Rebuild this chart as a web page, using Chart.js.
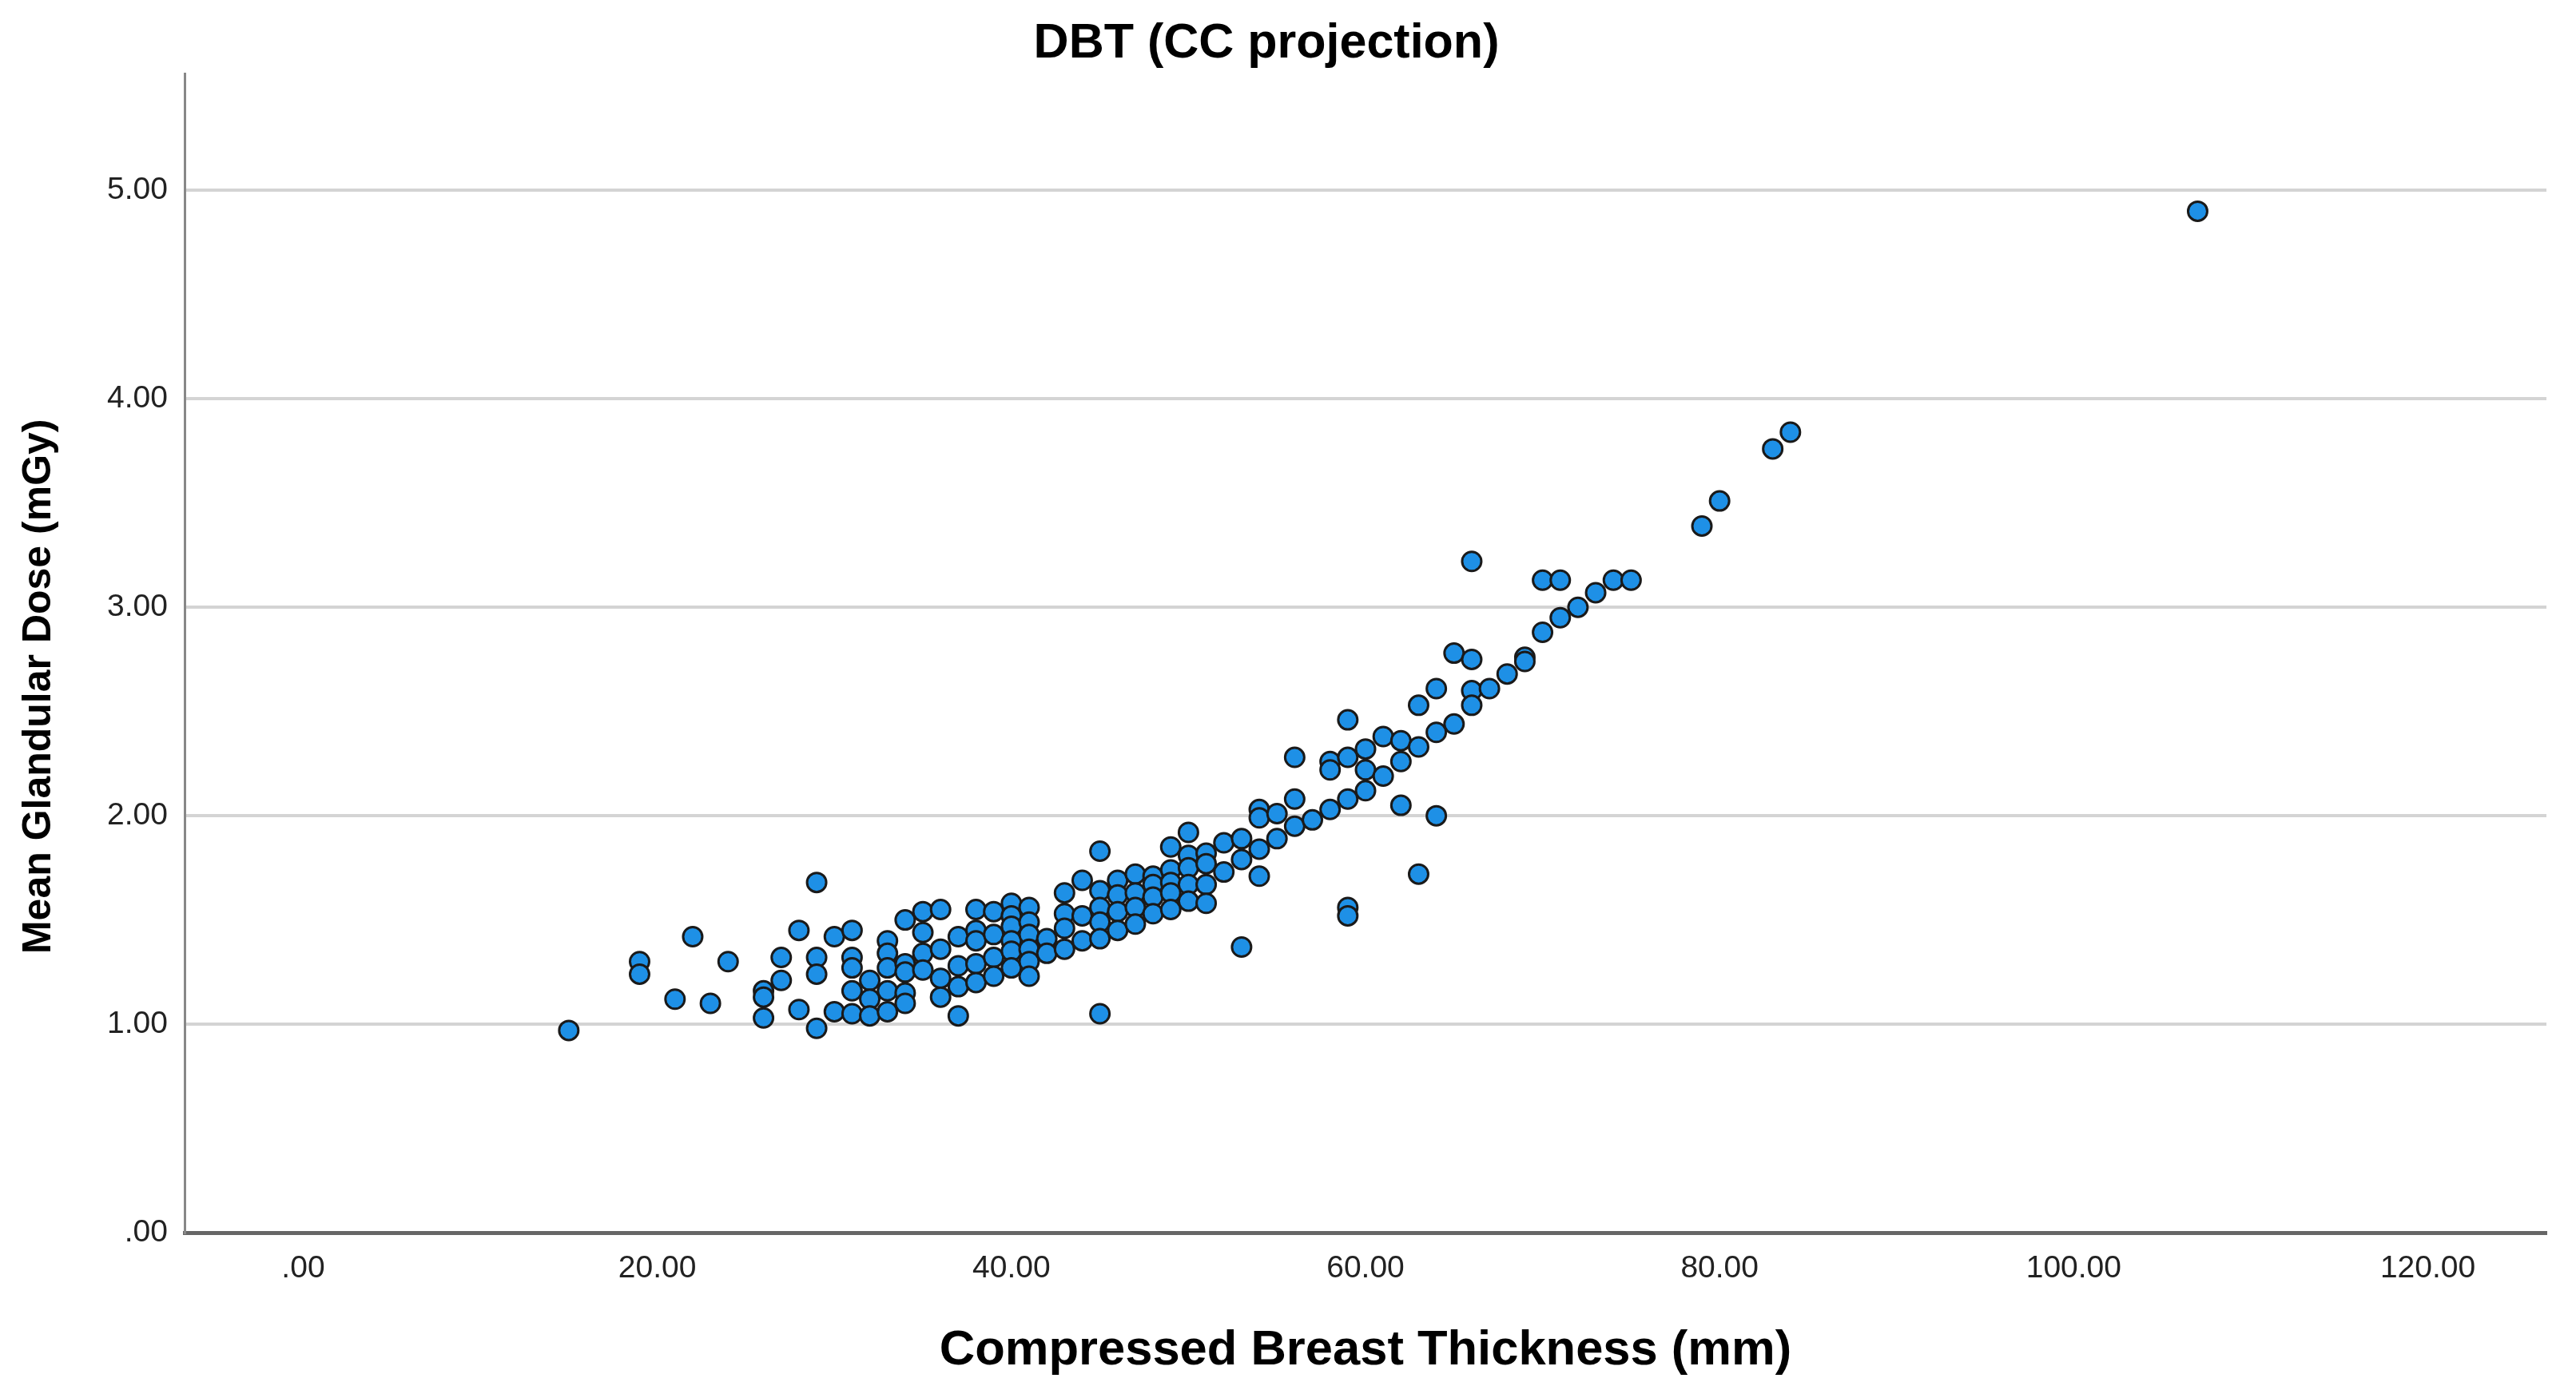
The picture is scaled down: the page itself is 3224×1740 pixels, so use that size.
<!DOCTYPE html>
<html>
<head>
<meta charset="utf-8">
<script src="https://cdn.jsdelivr.net/npm/chart.js@4/dist/chart.umd.min.js"></script>
<style>
  html, body { margin: 0; padding: 0; background: #fff; }
  canvas { display: block; }
</style>
</head>
<body>
<canvas id="grafico" width="3224" height="1740"></canvas>
<script>
// espessura da mama comprimida (mm) e dose glandular média (mGy)
const thickness = [
  15, 19, 19, 21, 22, 23, 24, 26, 26, 26, 27, 27, 28, 28,
  29, 29, 29, 29, 30, 30, 31, 31, 31, 31, 31, 32, 32, 32,
  33, 33, 33, 33, 33, 34, 34, 34, 34, 34, 35, 35, 35, 35,
  36, 36, 36, 36, 37, 37, 37, 37, 38, 38, 38, 38, 38,
  39, 39, 39, 39, 40, 40, 40, 40, 40, 40, 41, 41, 41, 41, 41, 41,
  42, 42, 43, 43, 43, 43, 44, 44, 44, 45, 45, 45, 45, 45, 45,
  46, 46, 46, 46, 47, 47, 47, 47, 48, 48, 48, 48,
  49, 49, 49, 49, 49, 50, 50, 50, 50, 50, 51, 51, 51, 51,
  52, 52, 53, 53, 53, 54, 54, 54, 54, 55, 55, 56, 56, 56, 57,
  58, 58, 58, 59, 59, 59, 59, 59, 60, 60, 60, 61, 61, 62, 62, 62,
  63, 63, 63, 64, 64, 64, 65, 65, 66, 66, 66, 66, 67, 68, 69, 69,
  70, 70, 71, 71, 72, 73, 74, 75, 79, 80, 83, 84, 107
]
const dose = [
  0.97, 1.30, 1.24, 1.12, 1.42, 1.10, 1.30, 1.16, 1.13, 1.03, 1.32, 1.21, 1.45, 1.07,
  1.68, 1.32, 1.24, 0.98, 1.42, 1.06, 1.45, 1.32, 1.27, 1.16, 1.05, 1.21, 1.12, 1.04,
  1.40, 1.34, 1.27, 1.16, 1.06, 1.50, 1.29, 1.25, 1.15, 1.10, 1.54, 1.44, 1.34, 1.26,
  1.55, 1.36, 1.22, 1.13, 1.42, 1.28, 1.18, 1.04, 1.55, 1.45, 1.40, 1.29, 1.20,
  1.54, 1.43, 1.32, 1.23, 1.58, 1.52, 1.47, 1.40, 1.35, 1.27, 1.56, 1.49, 1.43, 1.36, 1.30, 1.23,
  1.41, 1.34, 1.63, 1.53, 1.46, 1.36, 1.69, 1.52, 1.40, 1.83, 1.64, 1.56, 1.49, 1.41, 1.05,
  1.69, 1.62, 1.54, 1.45, 1.72, 1.63, 1.56, 1.48, 1.71, 1.67, 1.61, 1.53,
  1.85, 1.74, 1.68, 1.63, 1.55, 1.92, 1.81, 1.75, 1.67, 1.59, 1.82, 1.77, 1.67, 1.58,
  1.87, 1.73, 1.89, 1.79, 1.37, 2.03, 1.99, 1.84, 1.71, 2.01, 1.89, 2.28, 2.08, 1.95, 1.98,
  2.26, 2.22, 2.03, 2.46, 2.28, 2.08, 1.56, 1.52, 2.32, 2.22, 2.12, 2.38, 2.19, 2.36, 2.26, 2.05,
  2.53, 2.33, 1.72, 2.61, 2.40, 2.00, 2.78, 2.44, 3.22, 2.75, 2.60, 2.53, 2.61, 2.68, 2.76, 2.74,
  3.13, 2.88, 3.13, 2.95, 3.00, 3.07, 3.13, 3.13, 3.39, 3.51, 3.76, 3.84, 4.90
]
const xTicks = [0, 20, 40, 60, 80, 100, 120]
const yTicks = [0, 1, 2, 3, 4, 5]

function formatTick(v) { // formato do SPSS: .00, 20.00 ...
  return v == 0 ? ".00" : Number(v).toFixed(2)
}

const pontos = thickness.map((x, i) => ({ x: x, y: dose[i] }))
const fonte = "'Liberation Sans', Arial, sans-serif"

new Chart(document.getElementById("grafico"), {
  type: 'scatter',
  data: {
    datasets: [{
      data: pontos,
      pointRadius: 12,
      pointHoverRadius: 12,
      pointBorderWidth: 3,
      backgroundColor: '#1e90e6',
      borderColor: '#1a1a1a'
    }]
  },
  options: {
    responsive: false,
    animation: false,
    devicePixelRatio: 1,
    layout: { padding: { left: 0, right: 37, top: 0, bottom: 0 } },
    plugins: {
      legend: { display: false },
      tooltip: { enabled: false },
      title: {
        display: true,
        text: 'DBT (CC projection) ',
        color: '#000',
        font: { family: fonte, size: 61, weight: 'bold' },
        padding: { top: 19, bottom: 0 }
      }
    },
    scales: {
      x: {
        type: 'linear',
        min: -6.7,
        max: 126.7,
        afterFit: function (scale) { scale.height = 197 },
        afterBuildTicks: function (scale) { scale.ticks = xTicks.map(v => ({ value: v })) },
        ticks: {
          stepSize: 20,
          includeBounds: false,
          padding: 22,
          color: '#222',
          font: { family: fonte, size: 39 },
          callback: formatTick
        },
        grid: { display: false, drawTicks: false },
        border: { display: true, color: '#666', width: 5 },
        title: {
          display: true,
          text: 'Compressed Breast Thickness (mm)',
          color: '#000',
          font: { family: fonte, size: 61.5, weight: 'bold' },
          padding: { top: 0, bottom: 12 }
        }
      },
      y: {
        type: 'linear',
        min: 0,
        max: 5.56,
        afterFit: function (scale) { scale.width = 231 },
        afterBuildTicks: function (scale) { scale.ticks = yTicks.map(v => ({ value: v })) },
        ticks: {
          stepSize: 1,
          includeBounds: false,
          padding: 21,
          color: '#222',
          font: { family: fonte, size: 39 },
          callback: formatTick
        },
        grid: { display: true, drawTicks: false, color: '#d4d4d4', lineWidth: 4 },
        border: { display: true, color: '#888', width: 3 },
        title: {
          display: true,
          text: 'Mean Glandular Dose (mGy)      ',
          color: '#000',
          font: { family: fonte, size: 50, weight: 'bold' },
          padding: { top: 19, bottom: 0 }
        }
      }
    }
  }
})
</script>
</body>
</html>
